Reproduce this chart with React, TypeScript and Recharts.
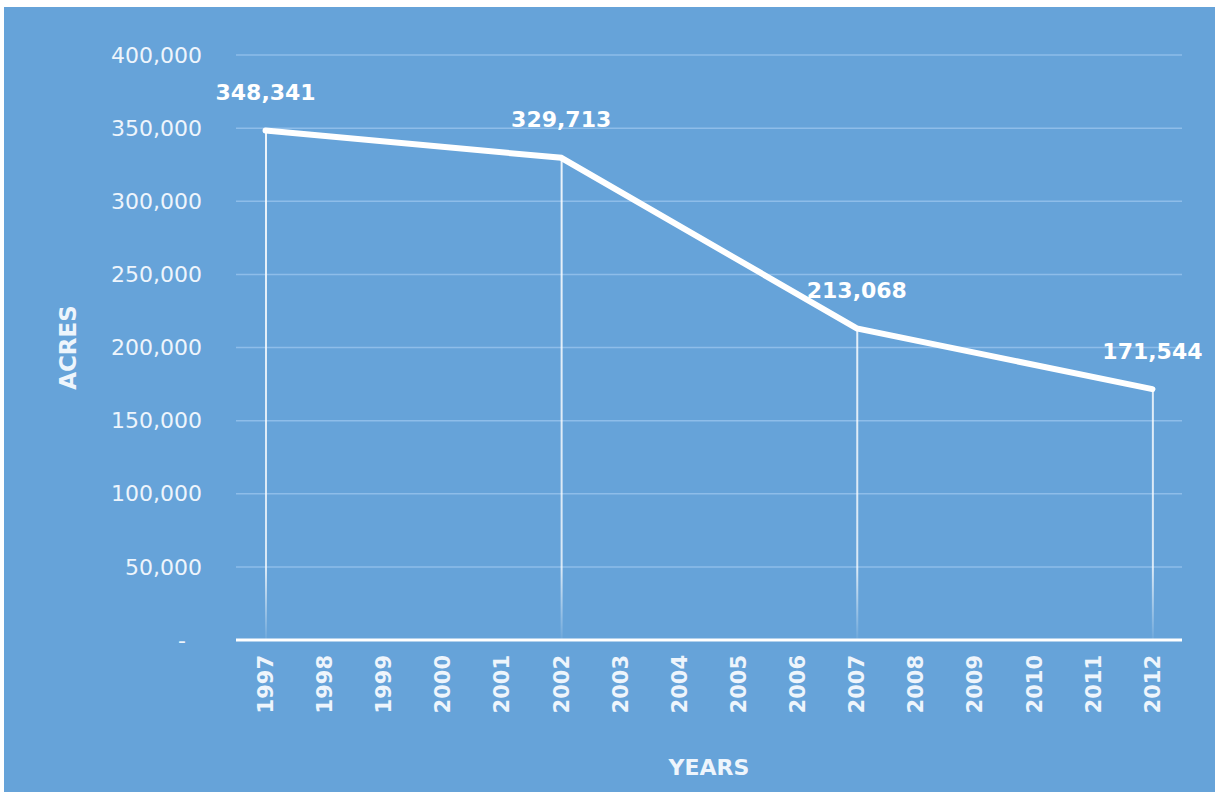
import React from "react";
import {
  ComposedChart,
  Line,
  Bar,
  XAxis,
  YAxis,
  CartesianGrid,
  LabelList,
  Label,
} from "recharts";

const years = [
  "1997", "1998", "1999", "2000", "2001", "2002", "2003", "2004",
  "2005", "2006", "2007", "2008", "2009", "2010", "2011", "2012",
];

// census years only; the other years have no value
const acres: (number | null)[] = [
  348341, null, null, null, null,
  329713, null, null, null, null,
  213068, null, null, null, null,
  171544,
];

const yTicks = [0, 50000, 100000, 150000, 200000, 250000, 300000, 350000, 400000];

const data = years.map((year, i) => ({ year, acres: acres[i] }));

const BG = "#66a3d9";
const TEXT = "#eef5fc";
const GRID = "#8ebde9";
const FONT = "'DejaVu Sans', Verdana, sans-serif";

function YTick({ x, y, payload }: any) {
  const v = payload.value as number;
  return (
    <text
      x={v === 0 ? x - 16 : x}
      y={y}
      dy="0.35em"
      textAnchor="end"
      fill={TEXT}
      fontSize={22}
      fontFamily={FONT}
    >
      {v === 0 ? "-" : v.toLocaleString("en-US")}
    </text>
  );
}

function XTick({ x, y, payload }: any) {
  return (
    <text
      x={x}
      y={y}
      dy="0.35em"
      transform={`rotate(-90, ${x}, ${y})`}
      textAnchor="end"
      fill={TEXT}
      fontSize={21}
      fontWeight="bold"
      fontFamily={FONT}
    >
      {payload.value}
    </text>
  );
}

function PointLabel({ x, y, value }: any) {
  if (value == null) return null;
  return (
    <text
      x={x}
      y={y - 38}
      dy="0.35em"
      textAnchor="middle"
      fill="#ffffff"
      fontSize={22}
      fontWeight="bold"
      fontFamily={FONT}
    >
      {Number(value).toLocaleString("en-US")}
    </text>
  );
}

export default function App() {
  return (
    <div
      style={{
        position: "absolute",
        left: 0,
        top: 0,
        width: 1215,
        height: 792,
        background: "#ffffff",
      }}
    >
      <div style={{ position: "absolute", left: 4, top: 7, background: BG }}>
        <ComposedChart
          width={1211}
          height={785}
          data={data}
          margin={{ top: 48, right: 33, bottom: 12, left: 52 }}
        >
          <defs>
            <linearGradient
              id="dropFade"
              gradientUnits="userSpaceOnUse"
              x1="0"
              y1="48"
              x2="0"
              y2="633"
            >
              <stop offset="0" stopColor="#ffffff" stopOpacity={0.9} />
              <stop offset="0.88" stopColor="#ffffff" stopOpacity={0.75} />
              <stop offset="1" stopColor="#ffffff" stopOpacity={0.05} />
            </linearGradient>
          </defs>
          <CartesianGrid vertical={false} stroke={GRID} strokeWidth={1.5} />
          <XAxis
            dataKey="year"
            interval={0}
            height={140}
            tickLine={false}
            tickSize={0}
            tickMargin={15}
            tick={<XTick />}
            axisLine={{ stroke: "#ffffff", strokeWidth: 3 }}
          >
            <Label
              value="YEARS"
              position="insideBottom"
              offset={5}
              fill={TEXT}
              fontSize={22}
              fontWeight="bold"
              fontFamily={FONT}
            />
          </XAxis>
          <YAxis
            width={180}
            domain={[0, 400000]}
            ticks={yTicks}
            axisLine={false}
            tickLine={false}
            tickSize={0}
            tickMargin={34}
            tick={<YTick />}
          >
            <Label
              value="ACRES"
              angle={-90}
              position="insideLeft"
              offset={12}
              fill={TEXT}
              fontSize={23}
              fontWeight="bold"
              fontFamily={FONT}
              style={{ textAnchor: "middle" }}
            />
          </YAxis>
          <Bar
            dataKey="acres"
            barSize={2}
            fill="url(#dropFade)"
            isAnimationActive={false}
          />
          <Line
            type="linear"
            dataKey="acres"
            stroke="#ffffff"
            strokeWidth={6}
            strokeLinecap="round"
            dot={false}
            activeDot={false}
            connectNulls
            isAnimationActive={false}
          >
            <LabelList dataKey="acres" content={<PointLabel />} />
          </Line>
        </ComposedChart>
      </div>
    </div>
  );
}
